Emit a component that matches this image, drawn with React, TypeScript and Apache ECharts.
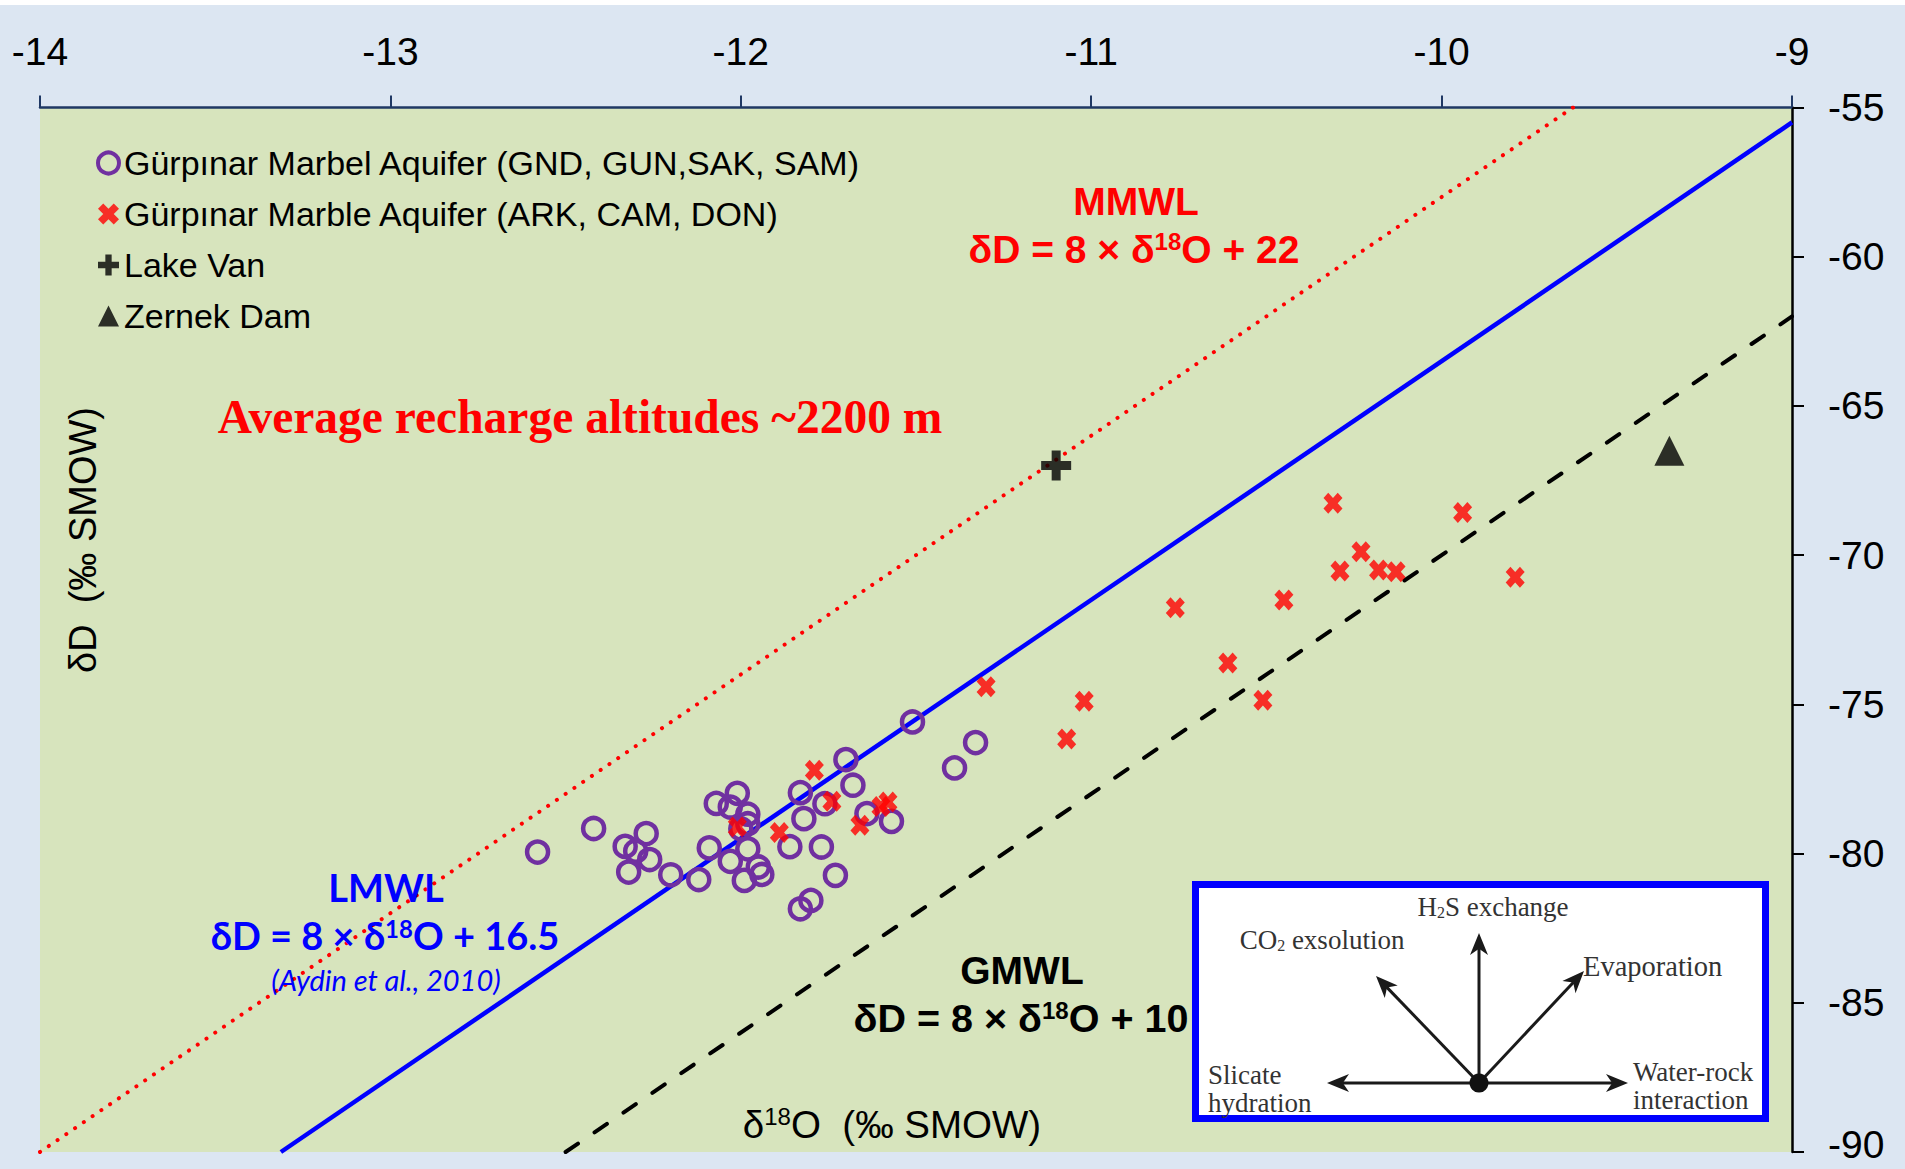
import React, { useEffect, useRef } from 'react';
import * as echarts from 'echarts';

// ---- axis ticks ----
const xTicks = [-14, -13, -12, -11, -10, -9];
const yTicks = [-90, -85, -80, -75, -70, -65, -60, -55];

// ---- series names ----
const nameGND = 'Gürpınar Marbel Aquifer (GND, GUN,SAK, SAM)';
const nameARK = 'Gürpınar Marble Aquifer (ARK, CAM, DON)';
const nameVan = 'Lake Van';
const nameZernek = 'Zernek Dam';

// ---- data (δ18O, δD) ----
const gndPoints: number[][] = [
  [-12.58, -79.95], [-12.42, -79.16], [-12.33, -79.76], [-12.27, -79.33], [-12.3, -79.92],
  [-12.26, -80.2], [-12.32, -80.62], [-12.2, -80.71], [-12.12, -80.87], [-12.09, -79.81],
  [-12.07, -78.32], [-12.01, -77.98], [-12.03, -78.44], [-11.98, -78.68], [-11.98, -79.0],
  [-12.0, -79.17], [-12.03, -80.26], [-11.98, -79.84], [-11.99, -80.9], [-11.95, -80.45],
  [-11.94, -80.7], [-11.83, -77.96], [-11.82, -78.83], [-11.86, -79.77], [-11.77, -79.78],
  [-11.83, -81.85], [-11.8, -81.57], [-11.76, -78.33], [-11.73, -80.73], [-11.7, -76.85],
  [-11.68, -77.71], [-11.64, -78.66], [-11.57, -78.92], [-11.51, -75.59], [-11.39, -77.13],
  [-11.33, -76.28],
];
const arkPoints: number[][] = [
  [-10.31, -68.26], [-9.94, -68.57], [-10.23, -69.89], [-10.29, -70.53], [-10.18, -70.5],
  [-10.13, -70.56], [-9.79, -70.74], [-10.76, -71.76], [-10.45, -71.5], [-10.61, -73.61],
  [-10.51, -74.86], [-11.3, -74.41], [-11.02, -74.9], [-11.07, -76.16], [-11.79, -77.21],
  [-11.74, -78.25], [-11.6, -78.42], [-11.58, -78.27], [-11.66, -79.05], [-12.01, -79.11],
  [-11.89, -79.29],
];
const lakeVanPoints: number[][] = [[-11.1, -67.0]];
const zernekPoints: number[][] = [[-9.35, -66.5]];

// ---- meteoric water lines (end points on the plot frame) ----
const mmwlLine: number[][] = [[-14, -90], [-9.625, -55]];
const lmwlLine: number[][] = [[-13.3125, -90], [-9, -55.5]];
const gmwlLine: number[][] = [[-12.5, -90], [-9, -62]];

const SANS = "'Liberation Sans', Arial, sans-serif";
const SERIF = "'Liberation Serif', 'Times New Roman', serif";
const CALI = "Lato, 'Liberation Sans', sans-serif";

const X_PATH = 'path://M0,5 L5,0 L10,5 L15,0 L20,5 L15,10 L20,15 L15,20 L10,15 L5,20 L0,15 L5,10 Z';
const PLUS_PATH = 'path://M7,0 H13 V7 H20 V13 H13 V20 H7 V13 H0 V7 H7 Z';

function arrow(cx: number, cy: number, tx: number, ty: number) {
  const dx = tx - cx;
  const dy = ty - cy;
  const len = Math.hypot(dx, dy);
  const ux = dx / len;
  const uy = dy / len;
  const nx = -uy;
  const ny = ux;
  const L = 22;
  const W = 9;
  const bx = tx - ux * L;
  const by = ty - uy * L;
  return [
    {
      type: 'line',
      z: 101,
      shape: { x1: cx, y1: cy, x2: tx - ux * L * 0.7, y2: ty - uy * L * 0.7 },
      style: { stroke: '#1a1a1a', lineWidth: 3 },
    },
    {
      type: 'polygon',
      z: 101,
      shape: {
        points: [
          [tx, ty],
          [bx + nx * W, by + ny * W],
          [tx - ux * L * 0.72, ty - uy * L * 0.72],
          [bx - nx * W, by - ny * W],
        ],
      },
      style: { fill: '#1a1a1a' },
    },
  ];
}

function eqText(x: number, y: number, rest: string, color: string, family: string, size: number) {
  return {
    type: 'text',
    x,
    y,
    z: 50,
    style: {
      text: `{m|δD = 8 × δ}{s|18}{m|O + ${rest}}`,
      align: 'center',
      verticalAlign: 'middle',
      fill: color,
      rich: {
        m: { fontSize: size, fontWeight: 'bold', fontFamily: family, fill: color },
        s: { fontSize: Math.round(size * 0.62), fontWeight: 'bold', fontFamily: family, fill: color, verticalAlign: 'top' },
      },
    },
  };
}

function plainText(x: number, y: number, text: string, opts: any, rotation = 0) {
  return {
    type: 'text',
    x,
    y,
    z: 50,
    rotation,
    style: { text, align: 'center', verticalAlign: 'middle', ...opts },
  };
}

const CX = 1479;
const CY = 1083;
const insetText = { fontSize: 27, fontFamily: SERIF, fill: '#333' };
const subRich = {
  n: { fontSize: 27, fontFamily: SERIF, fill: '#333' },
  b: { fontSize: 16, fontFamily: SERIF, fill: '#333', verticalAlign: 'bottom' },
};

const option: any = {
  animation: false,
  backgroundColor: '#dce6f2',
  grid: {
    left: 40,
    right: 113,
    top: 107.5,
    bottom: 17,
    show: true,
    backgroundColor: '#d7e4bd',
    borderWidth: 0,
  },
  xAxis: {
    type: 'value',
    position: 'top',
    min: xTicks[0],
    max: xTicks[xTicks.length - 1],
    interval: 1,
    splitLine: { show: false },
    axisLine: { show: true, onZero: false, lineStyle: { color: '#1f3864', width: 2.5 } },
    axisTick: { show: true, inside: false, length: 12, lineStyle: { color: '#1f3864', width: 2 } },
    axisLabel: { fontSize: 39, fontFamily: SANS, color: '#000', margin: 37 },
  },
  yAxis: {
    type: 'value',
    position: 'right',
    min: yTicks[0],
    max: yTicks[yTicks.length - 1],
    interval: 5,
    splitLine: { show: false },
    axisLine: { show: true, onZero: false, lineStyle: { color: '#000', width: 2.5 } },
    axisTick: { show: true, inside: false, length: 12, lineStyle: { color: '#000', width: 2 } },
    axisLabel: {
      fontSize: 39,
      fontFamily: SANS,
      color: '#000',
      margin: 36,
      formatter: (v: number) => (v === yTicks[0] ? `{low|${v}}` : `${v}`),
      rich: { low: { fontSize: 39, fontFamily: SANS, color: '#000', padding: [0, 0, 16, 0] } },
    },
  },
  legend: {
    orient: 'vertical',
    left: 91,
    top: 141,
    itemWidth: 21,
    itemHeight: 21,
    itemGap: 17,
    selectedMode: false,
    textStyle: { fontSize: 34, fontFamily: SANS, color: '#000', lineHeight: 34 },
    data: [
      { name: nameGND, icon: 'circle', itemStyle: { color: 'rgba(0,0,0,0)', borderColor: '#7030a0', borderWidth: 4 } },
      { name: nameARK, icon: X_PATH, itemStyle: { color: '#ff0000', borderWidth: 0 } },
      { name: nameVan, icon: PLUS_PATH, itemStyle: { color: '#000', borderWidth: 0 } },
      { name: nameZernek, icon: 'triangle', itemStyle: { color: '#000', borderWidth: 0 } },
    ],
  },
  series: [
    {
      name: 'MMWL',
      type: 'line',
      data: mmwlLine,
      showSymbol: false,
      silent: true,
      z: 1,
      lineStyle: { color: '#ff0000', width: 4, type: [0.1, 10.5], cap: 'round' },
    },
    {
      name: 'LMWL',
      type: 'line',
      data: lmwlLine,
      showSymbol: false,
      silent: true,
      z: 1,
      lineStyle: { color: '#0000ff', width: 4.5 },
    },
    {
      name: 'GMWL',
      type: 'line',
      data: gmwlLine,
      showSymbol: false,
      silent: true,
      z: 1,
      lineStyle: { color: '#000', width: 4, type: [15, 20], cap: 'round' },
    },
    {
      name: nameGND,
      type: 'scatter',
      data: gndPoints,
      symbol: 'circle',
      symbolSize: 21,
      z: 3,
      itemStyle: { color: 'rgba(0,0,0,0)', borderColor: '#7030a0', borderWidth: 4.5, opacity: 1 },
    },
    {
      name: nameARK,
      type: 'scatter',
      data: arkPoints,
      symbol: X_PATH,
      symbolSize: [19, 21],
      z: 4,
      itemStyle: { color: '#ff0000' },
    },
    {
      name: nameVan,
      type: 'scatter',
      data: lakeVanPoints,
      symbol: PLUS_PATH,
      symbolSize: 30,
      z: 4,
      itemStyle: { color: '#000' },
    },
    {
      name: nameZernek,
      type: 'scatter',
      data: zernekPoints,
      symbol: 'triangle',
      symbolSize: 30,
      z: 4,
      itemStyle: { color: '#000' },
    },
  ],
  graphic: [
    { type: 'rect', z: 0, shape: { x: 0, y: 0, width: 1905, height: 5 }, style: { fill: '#ffffff' } },
    // axis titles
    plainText(83, 540, 'δD  (‰ SMOW)', { fontSize: 38, fontFamily: SANS, fill: '#000' }, Math.PI / 2),
    {
      type: 'text',
      x: 892,
      y: 1124,
      z: 50,
      style: {
        text: '{m|δ}{s|18}{m|O  (‰ SMOW)}',
        align: 'center',
        verticalAlign: 'middle',
        rich: {
          m: { fontSize: 38.5, fontFamily: SANS, fill: '#000' },
          s: { fontSize: 24, fontFamily: SANS, fill: '#000', verticalAlign: 'top' },
        },
      },
    },
    plainText(580, 417, 'Average recharge altitudes ~2200 m', {
      fontSize: 47.5,
      fontWeight: 'bold',
      fontFamily: SERIF,
      fill: '#ff0000',
    }),
    plainText(1136, 201, 'MMWL', { fontSize: 39, fontWeight: 'bold', fontFamily: SANS, fill: '#ff0000' }),
    eqText(1134, 249, '22', '#ff0000', SANS, 39),
    plainText(386, 887, 'LMWL', { fontSize: 38, fontWeight: 'bold', fontFamily: CALI, fill: '#0000ff' }),
    eqText(385, 935, '16.5', '#0000ff', CALI, 38),
    plainText(386, 979, '(Aydin et al., 2010)', {
      fontSize: 29,
      fontStyle: 'italic',
      fontFamily: CALI,
      fill: '#0000ff',
    }),
    plainText(1022, 970, 'GMWL', { fontSize: 39, fontWeight: 'bold', fontFamily: SANS, fill: '#000' }),
    eqText(1021, 1018, '10', '#000', SANS, 39.5),
    // inset box
    {
      type: 'rect',
      z: 100,
      shape: { x: 1195.5, y: 884.5, width: 570, height: 234 },
      style: { fill: '#ffffff', stroke: '#0000ff', lineWidth: 7 },
    },
    ...arrow(CX, CY, 1479, 933),
    ...arrow(CX, CY, 1376, 976),
    ...arrow(CX, CY, 1584, 971),
    ...arrow(CX, CY, 1327, 1083),
    ...arrow(CX, CY, 1628, 1083),
    { type: 'circle', z: 102, shape: { cx: CX, cy: CY, r: 9.5 }, style: { fill: '#111' } },
    {
      type: 'text',
      x: 1493,
      y: 907,
      z: 103,
      style: { text: '{n|H}{b|2}{n|S exchange}', align: 'center', verticalAlign: 'middle', rich: subRich },
    },
    {
      type: 'text',
      x: 1322,
      y: 940,
      z: 103,
      style: { text: '{n|CO}{b|2}{n| exsolution}', align: 'center', verticalAlign: 'middle', rich: subRich },
    },
    { type: 'text', x: 1583, y: 966, z: 103, style: { text: 'Evaporation', align: 'left', verticalAlign: 'middle', ...insetText, fontSize: 28.5 } },
    { type: 'text', x: 1208, y: 1075, z: 103, style: { text: 'Slicate', align: 'left', verticalAlign: 'middle', ...insetText } },
    { type: 'text', x: 1208, y: 1103, z: 103, style: { text: 'hydration', align: 'left', verticalAlign: 'middle', ...insetText } },
    { type: 'text', x: 1633, y: 1072, z: 103, style: { text: 'Water-rock', align: 'left', verticalAlign: 'middle', ...insetText } },
    { type: 'text', x: 1633, y: 1100, z: 103, style: { text: 'interaction', align: 'left', verticalAlign: 'middle', ...insetText } },
  ],
};

export default function App() {
  const ref = useRef<HTMLDivElement>(null);
  useEffect(() => {
    if (!ref.current) return;
    const chart = echarts.init(ref.current, undefined, { renderer: 'svg' });
    chart.setOption(option);
    return () => chart.dispose();
  }, []);
  return (
    <div
      ref={ref}
      style={{ position: 'absolute', left: 0, top: 0, width: 1905, height: 1169, background: '#dce6f2' }}
    />
  );
}
